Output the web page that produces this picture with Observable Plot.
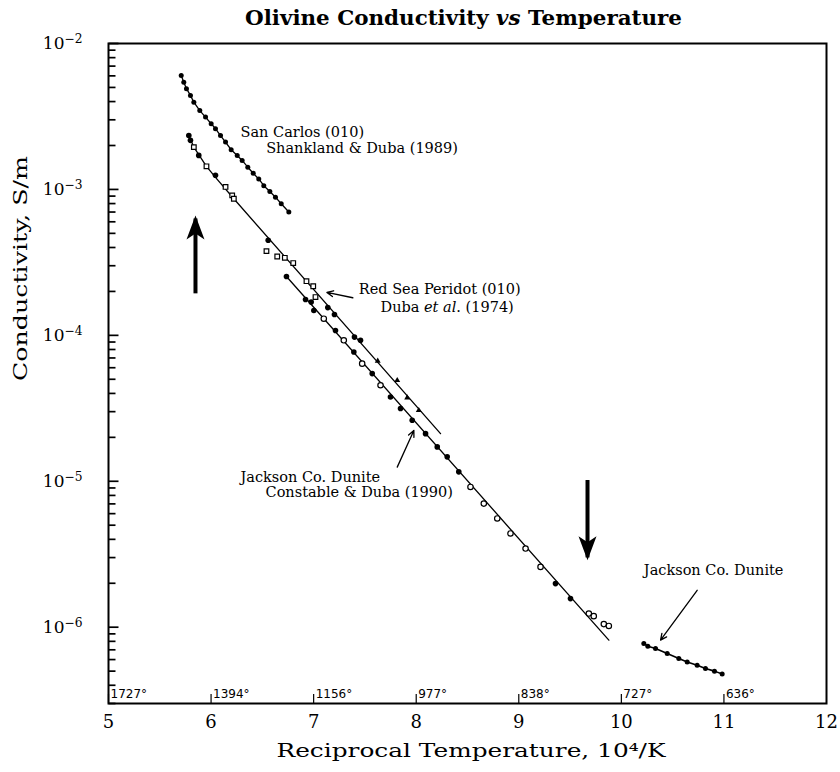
<!DOCTYPE html>
<html><head><meta charset="utf-8">
<script src="https://cdn.jsdelivr.net/npm/d3@7"></script>
<script src="https://cdn.jsdelivr.net/npm/@observablehq/plot@0.6"></script>
<style>
body{margin:0;background:#fff;}
#chart svg{display:block;}
</style></head><body><div id="chart"></div>
<script>
// ---- data ----
const titleText = "Olivine Conductivity vs Temperature";
const xLabel = "Reciprocal Temperature, 10\u2074/K";
const yLabel = "Conductivity, S/m";
const xTicks = [5, 6, 7, 8, 9, 10, 11, 12];
const yDecades = [1e-6, 1e-5, 1e-4, 1e-3, 1e-2];
const celsiusX = [5, 6, 7, 8, 9, 10, 11];
const celsiusLabels = ["1727°", "1394°", "1156°", "977°", "838°", "727°", "636°"];

const sanCarlosX = [5.709,5.734,5.760,5.799,5.832,5.890,5.946,6.001,6.043,6.092,6.141,6.196,6.255,6.303,6.358,6.411,6.465,6.514,6.573,6.628,6.684,6.758];
const sanCarlosY = [6.04e-3,5.43e-3,4.90e-3,4.41e-3,3.96e-3,3.47e-3,3.13e-3,2.82e-3,2.61e-3,2.34e-3,2.11e-3,1.87e-3,1.71e-3,1.58e-3,1.42e-3,1.29e-3,1.18e-3,1.06e-3,9.68e-4,8.85e-4,7.98e-4,7.00e-4];

const redSeaDotX = [5.783,5.799,5.880,6.043,6.557,7.138,7.203,7.398,7.457];
const redSeaDotY = [2.34e-3,2.17e-3,1.71e-3,1.25e-3,4.48e-4,1.55e-4,1.39e-4,9.73e-5,9.25e-5];
const redSeaSquareX = [5.832,5.955,6.141,6.206,6.222,6.540,6.645,6.719,6.801,6.930,6.996,7.018];
const redSeaSquareY = [1.95e-3,1.44e-3,1.04e-3,9.10e-4,8.63e-4,3.78e-4,3.47e-4,3.40e-4,3.13e-4,2.35e-4,2.17e-4,1.83e-4];
const redSeaTriX = [7.625,7.815,7.912,8.025];
const redSeaTriY = [6.67e-5,4.92e-5,3.74e-5,3.06e-5];
const redSeaFitX = [5.783,5.832,5.955,6.043,6.222,8.237];
const redSeaFitY = [2.34e-3,1.95e-3,1.44e-3,1.21e-3,8.63e-4,2.12e-5];

const jacksonDotX = [6.735,6.921,6.976,7.002,7.213,7.392,7.571,7.749,7.847,7.961,8.091,8.205,8.302,8.415,9.358,9.504];
const jacksonDotY = [2.53e-4,1.76e-4,1.69e-4,1.48e-4,1.08e-4,7.69e-5,5.47e-5,3.78e-5,3.15e-5,2.62e-5,2.12e-5,1.72e-5,1.47e-5,1.16e-5,1.99e-6,1.57e-6];
const jacksonOpenX = [7.099,7.294,7.473,7.652,8.529,8.659,8.790,8.919,9.066,9.212,9.683,9.731,9.829,9.878];
const jacksonOpenY = [1.30e-4,9.25e-5,6.40e-5,4.55e-5,9.14e-6,7.03e-6,5.56e-6,4.39e-6,3.46e-6,2.59e-6,1.24e-6,1.19e-6,1.05e-6,1.02e-6];
const jacksonFitX = [6.735, 9.878];
const jacksonFitY = [2.53e-4, 8.15e-7];

const jacksonLowX = [10.219,10.258,10.333,10.447,10.560,10.642,10.739,10.820,10.908,10.983];
const jacksonLowY = [7.73e-7,7.41e-7,7.15e-7,6.60e-7,6.10e-7,5.78e-7,5.49e-7,5.21e-7,5.00e-7,4.77e-7];

const bigArrowX = [5.848, 9.670];
const bigArrowFrom = [1.94e-4, 1.02e-5];
const bigArrowTo = [6.32e-4, 3.01e-6];

const pointerX1 = [7.382, 7.815, 10.739];
const pointerY1 = [1.81e-4, 1.25e-5, 1.79e-6];
const pointerX2 = [7.129, 7.977, 10.382];
const pointerY2 = [1.97e-4, 2.23e-5, 8.15e-7];

const noteText = ["San Carlos (010)", "Shankland & Duba (1989)", "Red Sea Peridot (010)", "Duba et al. (1974)", "Jackson Co. Dunite", "Constable & Duba (1990)", "Jackson Co. Dunite"];
const noteX = [6.287, 6.537, 7.440, 7.652, 6.287, 6.531, 10.219];
const noteY = [2.27e-3, 1.77e-3, 1.91e-4, 1.45e-4, 9.89e-6, 7.80e-6, 2.27e-6];

// ---- helpers ----
const pts = (xs, ys) => xs.map((x, i) => ({x, y: ys[i]}));
const yMinor = [];
for (const d of [1e-7, 1e-6, 1e-5, 1e-4, 1e-3]) for (let k = 2; k <= 9; k++) {
  const v = k * d; if (v >= 3e-7 && v < 1e-2) yMinor.push(v);
}
const X0 = 5, PX = 718 / 7; // x-domain start, pixels per unit
const tickRows = [
  ...yMinor.map(v => ({y: v, x1: X0, x2: X0 + 7 / PX})),
  ...yDecades.map(v => ({y: v, x1: X0, x2: X0 + 10 / PX}))
];

const headUp = {draw(c) { c.moveTo(0, -3); c.lineTo(9, 21); c.lineTo(0, 15); c.lineTo(-9, 21); c.closePath(); }};
const headDown = {draw(c) { c.moveTo(0, 3); c.lineTo(9, -21); c.lineTo(0, -15); c.lineTo(-9, -21); c.closePath(); }};

const arrows = bigArrowX.map((x, i) => ({x, y1: bigArrowFrom[i], y2: bigArrowTo[i]}));
const pointers = pointerX1.map((x, i) => ({x1: x, y1: pointerY1[i], x2: pointerX2[i], y2: pointerY2[i]}));
const notes = noteText.map((t, i) => ({t, x: noteX[i], y: noteY[i]}));
const celsius = celsiusX.map((x, i) => ({x, t: celsiusLabels[i]}));

const FH = 772 - 43 - 69;

const chart = Plot.plot({
  width: 840, height: 772,
  marginLeft: 108, marginRight: 14, marginTop: 43, marginBottom: 69,
  style: {fontFamily: "DejaVu Serif", background: "white", color: "black"},
  x: {domain: [5, 12]},
  y: {type: "log", domain: [3e-7, 1e-2]},
  marks: [
    Plot.axisX({ticks: xTicks, tickSize: 0, tickPadding: 12, fontSize: 18, label: null, tickFormat: d => String(d)}),
    Plot.axisY({ticks: yDecades, tickSize: 0, tickPadding: 26, fontSize: 17, label: null,
      tickFormat: d => String(Math.round(Math.log10(d)))}),
    Plot.frame({stroke: "black", strokeWidth: 2}),
    Plot.tickX(celsiusX, {x: d => d, insetTop: FH - 9, strokeWidth: 1.2}),
    Plot.text(celsius, {x: "x", text: "t", frameAnchor: "bottom", textAnchor: "start", lineAnchor: "bottom",
      dy: -6, dx: 2, fontSize: 12, fontFamily: "DejaVu Sans"}),

    // San Carlos
    Plot.line(pts(sanCarlosX, sanCarlosY), {x: "x", y: "y", strokeWidth: 1.3}),
    Plot.dot(pts(sanCarlosX, sanCarlosY), {x: "x", y: "y", r: 2.5, fill: "black"}),
    // Red Sea Peridot
    Plot.line(pts(redSeaFitX, redSeaFitY), {x: "x", y: "y", strokeWidth: 1.3}),
    Plot.dot(pts(redSeaDotX, redSeaDotY), {x: "x", y: "y", r: 2.8, fill: "black"}),
    Plot.dot(pts(redSeaSquareX, redSeaSquareY), {x: "x", y: "y", r: 2.6, symbol: "square", fill: "white", stroke: "black", strokeWidth: 1.2}),
    Plot.dot(pts(redSeaTriX, redSeaTriY), {x: "x", y: "y", r: 2.2, symbol: "triangle", fill: "black"}),
    // Jackson Co. Dunite (Constable & Duba)
    Plot.line(pts(jacksonFitX, jacksonFitY), {x: "x", y: "y", strokeWidth: 1.3}),
    Plot.dot(pts(jacksonDotX, jacksonDotY), {x: "x", y: "y", r: 2.8, fill: "black"}),
    Plot.dot(pts(jacksonOpenX, jacksonOpenY), {x: "x", y: "y", r: 2.7, fill: "white", stroke: "black", strokeWidth: 1.2}),
    // Jackson Co. Dunite low T
    Plot.line(pts(jacksonLowX, jacksonLowY), {x: "x", y: "y", strokeWidth: 1.6}),
    Plot.dot(pts(jacksonLowX, jacksonLowY), {x: "x", y: "y", r: 2.5, fill: "black"}),

    // big arrows
    Plot.link(arrows, {x1: "x", x2: "x", y1: "y1", y2: "y2", strokeWidth: 4}),
    Plot.dot(arrows.slice(0, 1), {x: "x", y: "y2", symbol: headUp, fill: "black"}),
    Plot.dot(arrows.slice(1), {x: "x", y: "y2", symbol: headDown, fill: "black"}),
    // pointers
    Plot.arrow(pointers, {x1: "x1", y1: "y1", x2: "x2", y2: "y2", strokeWidth: 1.3, headLength: 8, headAngle: 50}),
    // notes
    Plot.text(notes, {x: "x", y: "y", text: "t", textAnchor: "start", lineAnchor: "bottom", fontSize: 14.5}),

    // titles
    Plot.text([titleText], {frameAnchor: "top", dy: -19, dx: -4, lineAnchor: "bottom", fontSize: 20, fontWeight: "bold"}),
    Plot.text([xLabel], {frameAnchor: "bottom", dy: 53, dx: 3.5, lineAnchor: "bottom", fontSize: 19}),
    Plot.text([yLabel], {frameAnchor: "left", rotate: -90, dx: -82, dy: 7.5, lineAnchor: "bottom", fontSize: 19}),

    // inward y ticks, drawn last
    Plot.link(tickRows, {x1: "x1", x2: "x2", y1: "y", y2: "y", stroke: "black", strokeWidth: 1.7})
  ]
});

document.getElementById("chart").appendChild(chart);

// ---- typographic touches ----
const NS = "http://www.w3.org/2000/svg";
function rebuild(el, parts) {
  while (el.firstChild) el.removeChild(el.firstChild);
  for (const p of parts) {
    if (typeof p === "string") el.appendChild(document.createTextNode(p));
    else {
      const ts = document.createElementNS(NS, "tspan");
      for (const k in p.attrs) ts.setAttribute(k, p.attrs[k]);
      ts.textContent = p.text;
      el.appendChild(ts);
    }
  }
}
chart.querySelectorAll('g[aria-label="y-axis tick label"] text').forEach(t => {
  const e = t.textContent.replace("-", "\u2212");
  rebuild(t, ["10", {text: e, attrs: {dy: "-0.5em", "font-size": "0.72em"}}]);
});
chart.querySelectorAll("text").forEach(t => {
  const s = t.textContent;
  if (s === titleText) {
    rebuild(t, ["Olivine Conductivity ", {text: "vs", attrs: {"font-style": "italic"}}, " Temperature"]);
    t.setAttribute("textLength", 437); t.setAttribute("lengthAdjust", "spacingAndGlyphs");
  } else if (s === "Duba et al. (1974)") {
    rebuild(t, ["Duba ", {text: "et al", attrs: {"font-style": "italic"}}, ". (1974)"]);
  } else if (s === xLabel) {
    t.setAttribute("textLength", 389); t.setAttribute("lengthAdjust", "spacingAndGlyphs");
  } else if (s === yLabel) {
    t.setAttribute("textLength", 225); t.setAttribute("lengthAdjust", "spacingAndGlyphs");
  }
});
</script>
</body></html>
